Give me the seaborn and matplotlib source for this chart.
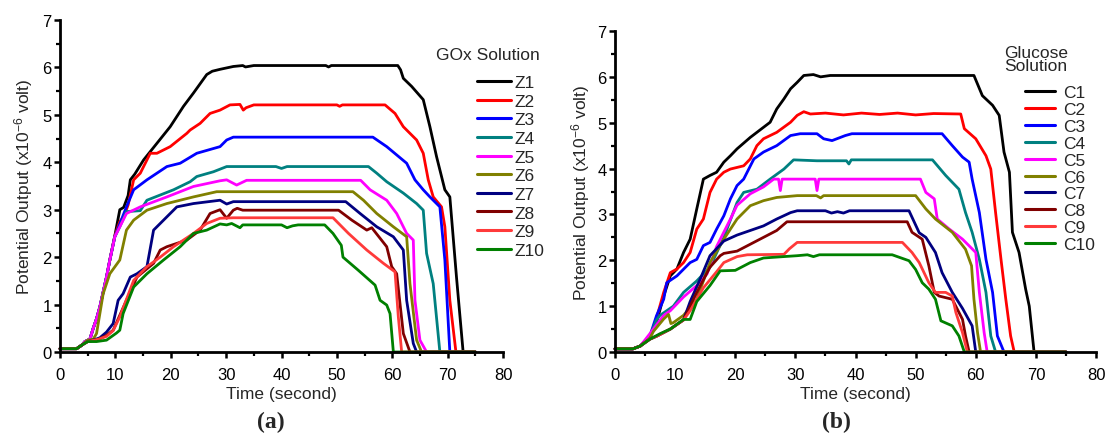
import numpy as np
import pandas as pd
import matplotlib
matplotlib.use("Agg")
import matplotlib.pyplot as plt
from matplotlib.ticker import MultipleLocator
from matplotlib.lines import Line2D
import seaborn as sns

# ---------------- data: panel (a) GOx solution ----------------
Z1_t = [0, 3, 4, 4.5, 5.4, 6, 6.6, 7.2, 8.4, 9, 9.9, 10.8, 11.5, 12.3, 12.7, 13.5, 15.1, 17.5, 19.9, 22.3, 24.1, 26.5, 27.5, 28.9, 31.3, 33, 33.5, 35, 48, 48.5, 49, 61, 61.5, 62, 63.5, 65.6, 66.8, 68, 69.5, 70.4, 71.6, 72.8, 75]
Z1_v = [0.07, 0.07, 0.15, 0.22, 0.27, 0.5, 0.7, 0.95, 1.58, 1.94, 2.45, 3.0, 3.05, 3.3, 3.63, 3.75, 4.05, 4.4, 4.75, 5.18, 5.46, 5.85, 5.92, 5.96, 6.02, 6.04, 6.01, 6.04, 6.04, 6.01, 6.04, 6.04, 5.95, 5.77, 5.6, 5.32, 4.75, 4.12, 3.42, 3.27, 1.58, 0, 0]
Z2_t = [0, 3, 4, 4.5, 5.4, 6, 6.6, 7.2, 8.4, 9, 9.9, 10.8, 11.5, 12.3, 13.3, 14.5, 16.3, 17.5, 19.9, 22.9, 23.5, 25.3, 27.1, 28.9, 30.7, 32.5, 33.1, 33.6, 35, 50, 50.5, 51, 58.7, 60.5, 62, 64.4, 65.6, 66.5, 67.4, 68.9, 69.5, 70.4, 71.5, 75]
Z2_v = [0.07, 0.07, 0.15, 0.22, 0.27, 0.5, 0.7, 0.95, 1.58, 1.94, 2.45, 2.75, 2.85, 3.1, 3.63, 3.77, 4.19, 4.19, 4.33, 4.61, 4.68, 4.82, 5.03, 5.1, 5.21, 5.22, 5.1, 5.15, 5.21, 5.21, 5.18, 5.21, 5.21, 5.03, 4.75, 4.47, 4.19, 3.63, 3.27, 3.06, 2.64, 1.09, 0, 0]
Z3_t = [0, 3, 4, 4.5, 5.4, 6, 6.6, 7.2, 8.4, 9, 9.9, 10.8, 12, 13.3, 15.7, 19.3, 21.7, 24.7, 28.9, 30.1, 31.3, 56.5, 59, 62.6, 64.1, 65.6, 66.8, 68.6, 69.5, 70.4, 75]
Z3_v = [0.07, 0.07, 0.15, 0.22, 0.27, 0.5, 0.7, 0.95, 1.58, 1.94, 2.43, 2.7, 3.06, 3.42, 3.63, 3.91, 3.98, 4.19, 4.33, 4.47, 4.53, 4.53, 4.33, 3.98, 3.63, 3.42, 3.27, 3.06, 1.94, 0, 0]
Z4_t = [0, 3, 4, 4.5, 5.4, 6, 6.6, 7.2, 8.4, 9, 9.9, 10.8, 12, 14.5, 15.7, 20.5, 23.5, 24.7, 27.7, 30.1, 39, 40, 41, 55.7, 57.2, 59, 62, 64.4, 65.6, 66.2, 67.4, 68.6, 75]
Z4_v = [0.07, 0.07, 0.15, 0.22, 0.27, 0.5, 0.7, 0.95, 1.58, 1.94, 2.43, 2.64, 2.96, 2.98, 3.2, 3.42, 3.59, 3.7, 3.8, 3.91, 3.91, 3.87, 3.91, 3.91, 3.77, 3.59, 3.35, 3.13, 2.99, 2.08, 1.44, 0, 0]
Z5_t = [0, 3, 4, 4.5, 5.4, 6, 6.6, 7.2, 8.4, 9, 9.9, 10.2, 12, 14.5, 19.3, 24.1, 28.9, 30.1, 31.9, 33.7, 54.3, 56, 59, 60.8, 62.6, 63.8, 64.1, 65, 66.2, 75]
Z5_v = [0.07, 0.07, 0.15, 0.22, 0.27, 0.5, 0.7, 0.95, 1.58, 1.94, 2.43, 2.5, 2.92, 3.06, 3.27, 3.49, 3.61, 3.63, 3.52, 3.62, 3.62, 3.42, 3.2, 2.92, 2.5, 2.36, 1.09, 0.25, 0, 0]
Z6_t = [0, 3, 4, 5, 6, 6.6, 7.8, 9, 10.8, 12, 13.3, 15.7, 19.3, 24.1, 28.3, 52.9, 54.8, 57.2, 60.2, 62.6, 63.2, 64.4, 65.3, 75]
Z6_v = [0.07, 0.07, 0.15, 0.25, 0.27, 0.39, 1.23, 1.65, 1.94, 2.57, 2.78, 2.99, 3.13, 3.27, 3.38, 3.38, 3.2, 2.92, 2.64, 2.43, 1.44, 0.25, 0, 0]
Z7_t = [0, 3, 4, 5, 6.5, 7.2, 8.4, 9.6, 10.5, 11.4, 12.7, 13.9, 15.7, 16.9, 18.7, 21.1, 24.1, 28.9, 30.1, 31.3, 51.6, 54.2, 57.2, 60.2, 62, 62.6, 63.8, 64.4, 75]
Z7_v = [0.07, 0.07, 0.15, 0.22, 0.27, 0.3, 0.42, 0.6, 1.09, 1.23, 1.58, 1.65, 1.8, 2.57, 2.78, 3.06, 3.13, 3.2, 3.12, 3.17, 3.17, 2.92, 2.64, 2.43, 2.15, 1.09, 0.18, 0, 0]
Z8_t = [0, 3, 4, 5, 7, 8.4, 9.6, 12, 13.9, 16.9, 18.1, 19.3, 22.9, 25.3, 27.1, 28.9, 30.1, 31.3, 32, 33, 50.3, 52.7, 55.4, 56.3, 59, 59.9, 60.8, 62, 63.2, 75]
Z8_v = [0.07, 0.07, 0.15, 0.22, 0.27, 0.35, 0.46, 1.09, 1.58, 1.87, 2.15, 2.22, 2.36, 2.57, 2.92, 3.0, 2.82, 2.99, 3.03, 2.99, 2.99, 2.78, 2.57, 2.62, 2.22, 1.8, 1.65, 0.39, 0, 0]
Z9_t = [0, 3, 4, 5, 7, 8.4, 9.6, 10.8, 13.3, 15.7, 18.1, 20.5, 24.1, 26.5, 28.9, 31.3, 49.3, 52.1, 55.4, 58.4, 60.5, 61.1, 61.7, 75]
Z9_v = [0.07, 0.07, 0.15, 0.22, 0.27, 0.33, 0.45, 0.74, 1.51, 1.8, 2.0, 2.22, 2.5, 2.71, 2.82, 2.83, 2.83, 2.5, 2.15, 1.87, 1.69, 0.74, 0, 0]
Z10_t = [0, 3, 4, 5, 6.6, 8.4, 10.2, 10.8, 11.4, 13.3, 15.7, 18.7, 21.7, 24.1, 26.5, 28.9, 30.1, 31, 32.5, 33, 40, 41, 42, 43, 47.8, 49.3, 50.8, 51.1, 53.9, 56.9, 57.8, 59, 59.6, 60.2, 75]
Z10_v = [0.07, 0.07, 0.15, 0.22, 0.22, 0.25, 0.4, 0.46, 0.81, 1.37, 1.65, 1.94, 2.22, 2.5, 2.57, 2.7, 2.68, 2.71, 2.62, 2.68, 2.68, 2.62, 2.66, 2.68, 2.68, 2.5, 2.25, 2.0, 1.72, 1.41, 1.09, 0.99, 0.81, 0, 0]

# ---------------- data: panel (b) glucose solution ----------------
C1_t = [0, 3, 4.2, 5.8, 6.9, 8.1, 9.2, 10.3, 11.4, 12.5, 13.6, 14.7, 15.8, 16.9, 18.1, 19.2, 20.3, 22.5, 23.6, 24.7, 25.8, 26.9, 28.1, 29.2, 30.3, 31.4, 33, 34.2, 35.8, 59.7, 61.1, 62.8, 63.9, 64.7, 65.6, 66.1, 67.2, 68.3, 68.9, 69.7, 75]
C1_v = [0.07, 0.07, 0.13, 0.35, 0.64, 1.22, 1.66, 1.81, 2.17, 2.46, 3.12, 3.77, 3.85, 3.92, 4.14, 4.28, 4.43, 4.68, 4.79, 4.9, 5.01, 5.3, 5.52, 5.74, 5.88, 6.03, 6.05, 6.0, 6.03, 6.03, 5.59, 5.38, 5.16, 4.36, 3.92, 2.61, 2.17, 1.37, 1.0, 0, 0]
C2_t = [0, 3, 4.2, 5.8, 6.4, 8.1, 9.2, 10.3, 11.4, 12.5, 13.6, 14.7, 15.8, 16.9, 18.1, 19.2, 21.4, 22.5, 23.6, 24.7, 26.9, 29.2, 30.3, 31.4, 32.5, 35, 38, 41, 44, 47, 50, 53, 57.5, 58.1, 60, 61.7, 62.5, 63.3, 64.2, 65, 65.8, 66.4, 75]
C2_v = [0.07, 0.07, 0.13, 0.35, 0.5, 1.3, 1.73, 1.81, 1.95, 2.17, 2.68, 2.9, 3.48, 3.77, 3.92, 3.99, 4.06, 4.21, 4.5, 4.65, 4.79, 5.01, 5.16, 5.24, 5.19, 5.21, 5.17, 5.21, 5.18, 5.21, 5.17, 5.2, 5.19, 4.87, 4.65, 4.28, 3.99, 3.04, 2.02, 1.15, 0.35, 0, 0]
C3_t = [0, 3, 4.2, 5.8, 6.9, 8.1, 8.6, 10.3, 12.5, 13.6, 14.7, 15.8, 16.9, 18.1, 19.2, 20.3, 21.4, 23.1, 24.7, 26.9, 29.2, 30.8, 33.6, 34.7, 36.1, 38.3, 39.4, 54.4, 56.1, 57.8, 58.9, 59.4, 60.6, 61.7, 62.8, 63.6, 64.7, 75]
C3_v = [0.07, 0.07, 0.13, 0.35, 0.79, 1.15, 1.51, 1.66, 1.95, 2.02, 2.32, 2.39, 2.68, 2.97, 3.34, 3.63, 3.77, 4.21, 4.36, 4.5, 4.72, 4.76, 4.76, 4.65, 4.61, 4.72, 4.76, 4.76, 4.5, 4.25, 4.14, 3.77, 3.04, 2.02, 1.3, 0.35, 0, 0]
C4_t = [0, 3, 4.2, 5.8, 6.9, 7.5, 9.7, 11.4, 13.6, 15.8, 18.1, 20.3, 21.4, 23.6, 25.8, 28.1, 29.7, 33.6, 38.5, 38.9, 39.3, 52.8, 55, 57.2, 58.3, 59.4, 60.6, 61.7, 62.5, 63.3, 75]
C4_v = [0.07, 0.07, 0.13, 0.35, 0.7, 0.8, 1.0, 1.3, 1.55, 1.85, 2.5, 3.26, 3.48, 3.55, 3.77, 3.99, 4.19, 4.17, 4.17, 4.1, 4.19, 4.19, 3.85, 3.55, 3.04, 2.61, 2.02, 1.3, 0.35, 0, 0]
C5_t = [0, 3, 4.2, 5.8, 8.1, 9.2, 11.4, 13.6, 15.3, 16.9, 19.2, 20.3, 22.5, 24.7, 26.4, 27.2, 27.5, 27.8, 33.3, 33.6, 33.9, 50.8, 51.7, 53.1, 53.6, 55.6, 57.8, 60, 60.6, 61.4, 61.9, 75]
C5_v = [0.07, 0.07, 0.13, 0.4, 0.8, 0.9, 1.2, 1.45, 1.7, 2.3, 2.9, 3.2, 3.45, 3.6, 3.77, 3.77, 3.52, 3.77, 3.77, 3.52, 3.77, 3.77, 3.48, 3.34, 2.9, 2.68, 2.46, 2.17, 1.3, 0.42, 0, 0]
C6_t = [0, 3, 4.2, 5.8, 6.4, 8.1, 8.9, 9.3, 9.7, 11.4, 13.6, 15.8, 18.1, 20.3, 22.5, 24.7, 26.9, 30.3, 33.5, 34.2, 34.7, 50, 51.7, 53.3, 56.1, 58.3, 59.3, 59.7, 60.3, 60.8, 75]
C6_v = [0.07, 0.07, 0.13, 0.3, 0.45, 0.72, 0.82, 0.62, 0.64, 0.8, 1.15, 1.95, 2.46, 2.9, 3.19, 3.3, 3.37, 3.41, 3.41, 3.36, 3.41, 3.41, 3.12, 2.9, 2.61, 2.24, 1.88, 1.15, 0.42, 0, 0]
C7_t = [0, 3, 4.2, 5.8, 7, 9.2, 11.4, 12.5, 14.2, 15.8, 18.1, 20.3, 22.5, 24.7, 26.9, 29.2, 30.3, 35, 36, 37, 38, 39, 48.9, 50.6, 51.7, 53.3, 54.4, 56.1, 57.8, 59.4, 60, 75]
C7_v = [0.07, 0.07, 0.13, 0.28, 0.35, 0.5, 0.7, 1.1, 1.6, 2.1, 2.42, 2.55, 2.65, 2.75, 2.9, 3.04, 3.08, 3.08, 3.03, 3.06, 3.03, 3.08, 3.08, 2.6, 2.5, 2.17, 1.73, 1.3, 0.95, 0.57, 0, 0]
C8_t = [0, 3, 4.2, 5.8, 7, 9.2, 11.4, 12.5, 13.6, 15.8, 17.5, 18.1, 20.3, 22.5, 24.7, 26.9, 28.6, 48.6, 49.4, 51.1, 52.2, 53.1, 53.9, 56.1, 57.8, 58.3, 58.9, 75]
C8_v = [0.07, 0.07, 0.13, 0.28, 0.35, 0.5, 0.7, 1.0, 1.3, 1.85, 2.1, 2.15, 2.2, 2.35, 2.5, 2.65, 2.84, 2.84, 2.61, 2.46, 1.88, 1.3, 1.22, 1.15, 0.71, 0.35, 0, 0]
C9_t = [0, 3, 4.2, 5.8, 7, 9.2, 11.4, 12.5, 14.7, 16.9, 18.1, 20.3, 22, 28.1, 29, 30.3, 47.8, 49.4, 50.6, 52.2, 53.3, 55, 56.1, 56.7, 57.8, 58.6, 75]
C9_v = [0.07, 0.07, 0.13, 0.28, 0.35, 0.5, 0.7, 0.9, 1.4, 1.75, 1.95, 2.08, 2.12, 2.13, 2.25, 2.39, 2.39, 2.17, 1.95, 1.51, 1.3, 1.3, 1.22, 0.86, 0.42, 0, 0]
C10_t = [0, 3, 4.2, 5.8, 7.5, 9.2, 11.4, 12.5, 13.6, 15.8, 17.5, 20, 22.5, 24.7, 28, 30.3, 32, 33, 34, 46.1, 48.9, 50, 51.1, 52.2, 53.3, 54.2, 56.1, 57.2, 58.1, 75]
C10_v = [0.07, 0.07, 0.13, 0.28, 0.4, 0.5, 0.71, 0.71, 1.1, 1.45, 1.77, 1.78, 1.95, 2.05, 2.08, 2.1, 2.12, 2.08, 2.12, 2.12, 1.99, 1.8, 1.51, 1.37, 1.15, 0.68, 0.57, 0.35, 0, 0]

names_a = ["Z1", "Z2", "Z3", "Z4", "Z5", "Z6", "Z7", "Z8", "Z9", "Z10"]
names_b = ["C1", "C2", "C3", "C4", "C5", "C6", "C7", "C8", "C9", "C10"]
colors = ["#000000", "#FF0000", "#0000FF", "#008080", "#FF00FF",
          "#808000", "#000080", "#800000", "#FF3A3A", "#008000"]

series_a = [(Z1_t, Z1_v), (Z2_t, Z2_v), (Z3_t, Z3_v), (Z4_t, Z4_v), (Z5_t, Z5_v),
            (Z6_t, Z6_v), (Z7_t, Z7_v), (Z8_t, Z8_v), (Z9_t, Z9_v), (Z10_t, Z10_v)]
series_b = [(C1_t, C1_v), (C2_t, C2_v), (C3_t, C3_v), (C4_t, C4_v), (C5_t, C5_v),
            (C6_t, C6_v), (C7_t, C7_v), (C8_t, C8_v), (C9_t, C9_v), (C10_t, C10_v)]


def long_df(names, series):
    rows = []
    for n, (t, v) in zip(names, series):
        for i, (ti, vi) in enumerate(zip(t, v)):
            rows.append({"series": n, "order": i, "t": ti, "v": vi})
    return pd.DataFrame(rows)


sns.set_theme(style="ticks")
plt.rcParams["font.family"] = ["Liberation Sans", "DejaVu Sans"]
plt.rcParams["mathtext.default"] = "regular"

fig = plt.figure(figsize=(11.07, 4.35), dpi=100)
W, H = 1107, 435


def axes_px(x0, x1, ytop, ybot):
    return fig.add_axes([x0 / W, 1 - ybot / H, (x1 - x0) / W, (ybot - ytop) / H])


ax_a = axes_px(60, 503, 21, 353)
ax_b = axes_px(615, 1096, 32, 353)

FS_TICK = 12
FS_LAB = 12.5
FS_LEG = 12.5


def style_axis(ax, df, names, legend_title, leg_x, leg_y, title_x, title_y,
               spacing, hlen, tpad, ylabpad):
    sns.lineplot(data=df, x="t", y="v", hue="series", hue_order=names,
                 palette=colors, sort=False, estimator=None, units="series",
                 lw=2.0, ax=ax, legend=False)
    for ln in ax.lines:
        ln.set_clip_on(False)
    ax.set_xlim(0, 80)
    ax.set_ylim(0, 7)
    ax.xaxis.set_major_locator(MultipleLocator(10))
    ax.xaxis.set_minor_locator(MultipleLocator(5))
    ax.yaxis.set_major_locator(MultipleLocator(1))
    ax.yaxis.set_minor_locator(MultipleLocator(0.5))
    for s in ["top", "right"]:
        ax.spines[s].set_visible(False)
    for s in ["left", "bottom"]:
        ax.spines[s].set_linewidth(2.0)
        ax.spines[s].set_color("black")
    ax.tick_params(which="major", direction="out", length=4.5, width=1.8,
                   labelsize=FS_TICK, colors="black")
    ax.tick_params(which="minor", direction="out", length=3, width=1.6, colors="black")
    ax.tick_params(axis="x", which="major", pad=6)
    ax.tick_params(axis="y", which="major", pad=1.5)
    ax.set_xlabel("Time (second)", fontsize=FS_LAB, labelpad=3)
    ax.set_ylabel("Potential Output (x10$^{-6}$ volt)", fontsize=FS_LAB, labelpad=ylabpad)
    handles = [Line2D([], [], color=c, lw=2.2) for c in colors]
    ax.legend(handles, names, loc="upper left",
              bbox_to_anchor=(leg_x / W, 1 - leg_y / H),
              bbox_transform=fig.transFigure, frameon=False,
              fontsize=FS_LEG, handlelength=hlen, handletextpad=tpad,
              labelspacing=spacing, borderpad=0, borderaxespad=0)
    fig.text(title_x / W, 1 - title_y / H, legend_title, fontsize=FS_LEG,
             ha="left", va="center", linespacing=0.82)


style_axis(ax_a, long_df(names_a, series_a), names_a, "GOx Solution",
           477, 76, 436, 56, 0.2, 1.95, 0.22, 5)
style_axis(ax_b, long_df(names_b, series_b), names_b, "Glucose\nSolution",
           1025, 86, 1004, 60, 0.1, 1.7, 0.5, 4)

fig.text(271 / W, 1 - 422 / H, "(a)", fontsize=17, fontweight="bold",
         family="Liberation Serif", ha="center", va="center")
fig.text(836 / W, 1 - 422 / H, "(b)", fontsize=17, fontweight="bold",
         family="Liberation Serif", ha="center", va="center")

fig.savefig("out.png", dpi=100)
